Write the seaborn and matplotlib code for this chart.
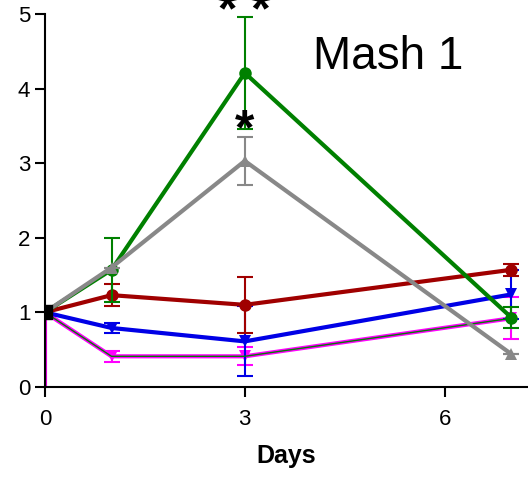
import pandas as pd
import numpy as np
import seaborn as sns
import matplotlib.pyplot as plt

# values (fold change vs day 0)
days = [0, 1, 3, 7]
groups = ["green", "gray", "red", "blue", "magenta"]
green = [1.0, 1.57, 4.21, 0.93]
green_err = [0, 0.43, 0.75, 0.14]
gray = [1.0, 1.60, 3.03, 0.44]
gray_err = [0, 0, 0.32, 0]
red = [1.0, 1.23, 1.10, 1.57]
red_err = [0, 0.15, 0.38, 0.08]
blue = [1.0, 0.79, 0.61, 1.24]
blue_err = [0, 0.07, 0.47, 0.33]
magenta = [1.0, 0.41, 0.41, 0.92]
magenta_err = [1.0, 0.07, 0.12, 0.28]

sns.set_style("ticks")
plt.rcParams['font.family'] = ['Liberation Sans', 'DejaVu Sans']
plt.rcParams['text.color'] = 'black'
plt.rcParams['axes.labelcolor'] = 'black'

fig = plt.figure(figsize=(5.28, 4.83), dpi=100)
ax = fig.add_axes([0.085, 0.199, 0.915, 0.772])

series = {"green": (green, green_err), "gray": (gray, gray_err), "red": (red, red_err),
          "blue": (blue, blue_err), "magenta": (magenta, magenta_err)}
colors = {"green": "#008000", "gray": "#888888", "red": "#a00000",
          "blue": "#0000e6", "magenta": "#ff00ff"}
markers = {"green": "o", "gray": "^", "red": "o", "blue": "v", "magenta": "v"}
zorders = {"magenta": 2, "blue": 3, "red": 4, "green": 5, "gray": 6}

rows = []
for g in groups:
    for d, v in zip(days, series[g][0]):
        rows.append({"Days": d, "value": v, "group": g})
df = pd.DataFrame(rows)

for g in groups:
    vals, errs = series[g]
    ax.errorbar(days[1:], vals[1:], yerr=errs[1:], fmt="none", ecolor=colors[g],
                elinewidth=1.5, capsize=6, capthick=1.5, zorder=zorders[g] - 0.5)
    sub = df[df["group"] == g]
    sns.lineplot(data=sub, x="Days", y="value", color=colors[g], lw=3, marker=markers[g],
                 markersize=9, markeredgewidth=0, ax=ax, zorder=zorders[g], legend=False)

# thin green centre line running along the magenta trace
sns.lineplot(x=days, y=magenta, color="#008000", lw=1, ax=ax, zorder=2.5, legend=False)

# day-0 error bar of the magenta group and the shared day-0 point
ax.vlines(days[0], magenta[0] - magenta_err[0], magenta[0], color="#ff00ff", lw=3, zorder=2)
ax.vlines(days[0], magenta[0] - magenta_err[0], magenta[0], color="#500050", lw=1, zorder=2.2)
ax.scatter([days[0]], [green[0]], marker="s", s=110, color="black", zorder=10)

ax.text(3, 3.25, "*", fontsize=36, fontweight="bold", ha="center", va="baseline", zorder=11)
ax.text(3, 4.84, "* *", fontsize=36, fontweight="bold", ha="center", va="baseline",
        clip_on=False, zorder=11)
ax.text(5.15, 4.42, "Mash 1", fontsize=33, ha="center", va="center")

ax.set_xlim(0, 7.25)
ax.set_ylim(0, 5)
ax.set_xticks([0, 3, 6])
ax.set_yticks([0, 1, 2, 3, 4, 5])
ax.set_xlabel("Days", fontsize=18, fontweight="bold", labelpad=10)
ax.set_ylabel("")
ax.tick_params(labelsize=16, width=1.5, length=7, color="black", labelcolor="black")
ax.tick_params(axis="x", pad=9)
for s in ["left", "bottom"]:
    ax.spines[s].set_linewidth(1.5)
    ax.spines[s].set_color("black")
sns.despine(ax=ax)

fig.savefig("out.png", dpi=100)
